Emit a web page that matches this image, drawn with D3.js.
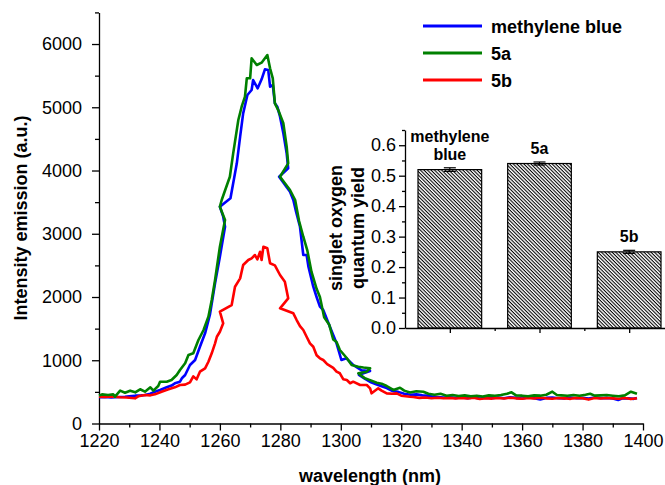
<!DOCTYPE html>
<html>
<head>
<meta charset="utf-8">
<script src="https://cdn.jsdelivr.net/npm/d3@7"></script>
<style>
  body { margin: 0; background: #fff; }
  svg { display: block; }
</style>
</head>
<body>
<script>
// Emission spectra, [wavelength (nm), intensity (a.u.)]
const methyleneBlue = [
  [1220,414],[1222,420],[1224,410],[1225.3,416],[1227,420],[1228.6,424],[1230,430],[1232,440],
  [1234,445],[1235.2,451],[1237,470],[1238.5,503],[1240.2,530],[1242.4,572],[1244,600],[1245.1,635],
  [1246.8,661],[1247.5,720],[1248.5,767],[1250.1,925],[1251.8,1004],[1253.4,1214],[1255.1,1426],
  [1256.7,1720],[1258.4,2216],[1260,2637],[1261.7,3111],[1261.1,3270],[1260,3428],[1263.5,3560],
  [1264.4,3800],[1265.6,4114],[1266.7,4535],[1267.7,4904],[1269.1,5194],[1270.5,5273],[1271,5431],
  [1272.5,5300],[1273.8,5442],[1274.9,5600],[1276,5589],[1276.6,5325],[1277.5,5352],[1278.2,5062],
  [1279,5009],[1279.9,4851],[1281,4588],[1282.1,4272],[1282.6,4035],[1279.6,3902],[1283.2,3665],
  [1284.3,3534],[1285.2,3350],[1286.5,3111],[1287.6,2664],[1288.7,2664],[1289.3,2479],[1290.9,2163],
  [1292,2000],[1293.1,1847],[1294.2,1794],[1296.4,1530],[1298.6,1268],[1300.2,1004],[1301.9,1031],
  [1304.1,925],[1306.9,840],[1309.7,830],[1306,770],[1308.2,700],[1310,650],[1311.9,615],[1313.5,590],
  [1315.2,560],[1317,515],[1319,500],[1321,470],[1323,455],[1325,460],[1327,445],[1329,440],
  [1330,430],[1332,420],[1334,410],[1336,415],[1338,405],[1340,410],[1342,400],[1344,412],[1346,395],
  [1348,408],[1350,400],[1352,410],[1354,398],[1356,415],[1358,405],[1360,395],[1362,410],[1364,400],
  [1366,380],[1368,405],[1370,410],[1372,400],[1374,395],[1376,410],[1378,400],[1380,405],[1382,395],
  [1384,410],[1386,400],[1388,405],[1390,395],[1391.8,372],[1393,395],[1395,400],[1397,390],[1398,405]
];

const compound5a = [
  [1220,440],[1221,461],[1223,451],[1224.7,461],[1225.3,424],[1227,519],[1228.6,487],[1230.3,519],
  [1232,493],[1233.6,541],[1235.2,503],[1237,572],[1238,519],[1239.6,593],[1240.2,661],[1242.4,661],
  [1244,688],[1245.7,767],[1246.8,846],[1248.5,952],[1249.6,1083],[1251.2,1110],[1252.9,1320],
  [1254.6,1478],[1256.2,1689],[1257.3,1953],[1258.4,2269],[1260,2796],[1261.7,3217],[1260,3428],
  [1260.6,3534],[1263.3,3902],[1264.4,4272],[1266.1,4798],[1267.2,5009],[1268.3,5167],[1268.9,5458],
  [1270,5458],[1270.5,5774],[1272.2,5668],[1273.8,5705],[1275.7,5826],[1276.6,5616],[1277.5,5458],
  [1278.2,5062],[1279.3,4956],[1281,4746],[1282.1,4376],[1282.6,4114],[1279.9,3902],[1283.2,3692],
  [1284.9,3534],[1286.2,3200],[1287.6,2953],[1288.9,2743],[1290.3,2400],[1292,2130],[1293.1,2000],
  [1294.5,1680],[1296.2,1560],[1297.5,1330],[1298.6,1290],[1299.7,1162],[1301.9,1040],[1303.6,925],
  [1305.8,898],[1307.5,885],[1309.7,873],[1308.6,819],[1305.8,794],[1308,714],[1309.5,690],
  [1311.9,645],[1313.5,630],[1315.2,593],[1317.4,530],[1319.6,566],[1321,520],[1322.9,490],
  [1325,510],[1327.3,503],[1329,470],[1331,455],[1333,470],[1335,440],[1337,450],[1339,435],
  [1341,445],[1343,430],[1345,440],[1347,428],[1349,445],[1351,438],[1353,450],[1355,470],
  [1356.5,493],[1358,445],[1360,440],[1362,430],[1364,445],[1366,440],[1368,455],[1370,503],
  [1371.5,450],[1373,445],[1375,438],[1377,450],[1379,440],[1381,455],[1382.5,471],[1384,440],
  [1386,445],[1388,450],[1390,440],[1392,430],[1394,445],[1396,503],[1398,471]
];

const compound5b = [
  [1220,424],[1222,420],[1224,428],[1225.3,424],[1227,415],[1229,410],[1231.9,398],[1233,430],
  [1235.2,451],[1237,445],[1238.5,461],[1240.7,503],[1243,540],[1245.1,572],[1246.8,609],[1248.5,615],
  [1250.1,650],[1251.2,745],[1252.3,698],[1253.4,819],[1255.1,872],[1256.2,977],[1257.3,1110],
  [1258.4,1268],[1259,1372],[1260,1451],[1261.1,1584],[1260,1768],[1263.9,1873],[1265,2163],
  [1266.7,2295],[1267.7,2506],[1269.4,2585],[1270.5,2612],[1271.6,2664],[1272.4,2596],[1273.3,2716],
  [1273.8,2585],[1274.4,2795],[1275.7,2770],[1276.6,2533],[1278.2,2500],[1279.9,2348],[1281.5,2242],
  [1282.6,1979],[1279.9,1821],[1284.3,1742],[1285.4,1636],[1286.5,1540],[1287.6,1478],[1288.7,1372],
  [1289.8,1268],[1290.9,1214],[1292,1080],[1293.1,1031],[1294.2,1004],[1295.5,940],[1297.5,880],
  [1298.6,819],[1299.7,794],[1300.8,700],[1302,688],[1303.1,636],[1304.1,661],[1306.4,609],
  [1308.6,609],[1309.7,556],[1310.2,477],[1312.4,556],[1313.5,520],[1315.2,477],[1317,470],
  [1318.5,477],[1320,440],[1322.9,424],[1324,420],[1326,405],[1328,410],[1330,400],[1332,408],
  [1334,398],[1336,405],[1338,395],[1340,402],[1342,396],[1344,408],[1346,388],[1348,400],
  [1350,394],[1352,404],[1354,396],[1356,408],[1358,398],[1360,392],[1362,404],[1364,396],
  [1366,408],[1368,398],[1370,392],[1372,402],[1374,398],[1376,390],[1378,405],[1380,398],
  [1382,378],[1384,402],[1386,395],[1388,402],[1390,398],[1392,392],[1394,402],[1396,386],[1398,400]
];

const seriesNames = ["methylene blue", "5a", "5b"];
const seriesColors = ["#0000ff", "#008000", "#ff0000"];

// Inset: singlet oxygen quantum yield
const yieldLabels = [["methylene", "blue"], ["5a"], ["5b"]];
const yieldValues = [0.52, 0.54, 0.25];
const yieldErrors = [0.006, 0.005, 0.005];

const xTicks = [1220, 1240, 1260, 1280, 1300, 1320, 1340, 1360, 1380, 1400];
const yTicks = [0, 1000, 2000, 3000, 4000, 5000, 6000];
const insetTicks = [0, 0.1, 0.2, 0.3, 0.4, 0.5, 0.6];

const width = 665;
const height = 485;
const font = "'Liberation Sans', Arial, Helvetica, sans-serif";

const svg = d3
  .select("body")
  .append("svg")
  .attr("width", width)
  .attr("height", height)
  .style("font-family", font);

// Main spectrum chart

const xScale = d3.scaleLinear().domain([1220, 1400]).range([99, 643]);
const yScale = d3.scaleLinear().domain([0, 6500]).range([423.5, 12.4]);

function styleAxis(g, size) {
  g.attr("font-family", font).attr("font-size", size);
  g.selectAll("path, line").attr("stroke", "#000").attr("stroke-width", 1.3);
  g.selectAll("text").attr("fill", "#000");
}

// minor ticks
svg
  .append("g")
  .attr("transform", `translate(0, ${yScale(0)})`)
  .call(d3.axisBottom(xScale).tickValues(d3.range(1230, 1400, 20)).tickSize(4).tickFormat(""))
  .call((g) => g.select(".domain").remove())
  .call((g) => styleAxis(g, 18));

svg
  .append("g")
  .attr("transform", `translate(${xScale(1220)}, 0)`)
  .call(d3.axisLeft(yScale).tickValues(d3.range(500, 6501, 1000)).tickSize(4).tickFormat(""))
  .call((g) => g.select(".domain").remove())
  .call((g) => styleAxis(g, 18));

svg
  .append("g")
  .attr("transform", `translate(0, ${yScale(0)})`)
  .call(d3.axisBottom(xScale).tickValues(xTicks).tickFormat(d3.format("d")).tickSize(7).tickSizeOuter(0).tickPadding(4))
  .call((g) => styleAxis(g, 18));

svg
  .append("g")
  .attr("transform", `translate(${xScale(1220)}, 0)`)
  .call(d3.axisLeft(yScale).tickValues(yTicks).tickSize(7).tickSizeOuter(0).tickPadding(10).tickFormat(d3.format("d")))
  .call((g) => styleAxis(g, 18));

const line = d3
  .line()
  .x((d) => xScale(d[0]))
  .y((d) => yScale(d[1]));

[methyleneBlue, compound5b, compound5a].forEach((series) => {
  const i = [methyleneBlue, compound5a, compound5b].indexOf(series);
  svg
    .append("path")
    .datum(series)
    .attr("fill", "none")
    .attr("stroke", seriesColors[i])
    .attr("stroke-width", 2.6)
    .attr("stroke-linejoin", "round")
    .attr("d", line);
});

svg
  .append("text")
  .attr("x", 370)
  .attr("y", 482)
  .attr("text-anchor", "middle")
  .attr("font-size", 18)
  .attr("font-weight", "bold")
  .text("wavelength (nm)");

svg
  .append("text")
  .attr("transform", "translate(27, 218) rotate(-90)")
  .attr("text-anchor", "middle")
  .attr("font-size", 18)
  .attr("font-weight", "bold")
  .text("Intensity emission (a.u.)");

// Legend

const legend = svg.append("g");
seriesNames.forEach((name, i) => {
  const ly = 26 + i * 27;
  legend
    .append("line")
    .attr("x1", 423)
    .attr("x2", 482)
    .attr("y1", ly)
    .attr("y2", ly)
    .attr("stroke", seriesColors[i])
    .attr("stroke-width", 3);
  legend
    .append("text")
    .attr("x", 491)
    .attr("y", ly + 6.5)
    .attr("font-size", 18)
    .attr("font-weight", "bold")
    .text(name);
});

// Inset bar chart

const defs = svg.append("defs");
const hatch = defs
  .append("pattern")
  .attr("id", "hatch")
  .attr("patternUnits", "userSpaceOnUse")
  .attr("width", 2.5)
  .attr("height", 2.5)
  .attr("patternTransform", "rotate(45)");
hatch.append("rect").attr("width", 2.5).attr("height", 2.5).attr("fill", "#fff");
hatch.append("rect").attr("width", 2.5).attr("height", 1.05).attr("fill", "#000");

const bx = d3.scaleLinear().domain([0.5, 3.5]).range([405, 674]);
const by = d3.scaleLinear().domain([0, 0.65]).range([328, 130]);
const barWidth = 0.71;

svg
  .append("g")
  .selectAll("rect")
  .data(yieldValues)
  .enter()
  .append("rect")
  .attr("x", (d, i) => bx(i + 1 - barWidth / 2))
  .attr("y", (d) => by(d))
  .attr("width", bx(barWidth) - bx(0))
  .attr("height", (d) => by(0) - by(d))
  .attr("fill", "url(#hatch)")
  .attr("stroke", "#000")
  .attr("stroke-width", 1.2);

// error bars
const errors = svg.append("g").attr("stroke", "#000").attr("stroke-width", 1.2);
yieldValues.forEach((v, i) => {
  const cx = bx(i + 1);
  errors.append("line").attr("x1", cx).attr("x2", cx).attr("y1", by(v - yieldErrors[i])).attr("y2", by(v + yieldErrors[i]));
  [v - yieldErrors[i], v + yieldErrors[i]].forEach((e) => {
    errors.append("line").attr("x1", cx - 6).attr("x2", cx + 6).attr("y1", by(e)).attr("y2", by(e));
  });
});

// bar labels
yieldLabels.forEach((lines, i) => {
  const t = svg
    .append("text")
    .attr("text-anchor", "middle")
    .attr("font-size", 16)
    .attr("font-weight", "bold");
  const top = by(yieldValues[i]) - 10 - (lines.length - 1) * 18;
  lines.forEach((s, k) => {
    t.append("tspan").attr("x", bx(i + 1)).attr("y", top + k * 18).text(s);
  });
});

svg
  .append("g")
  .attr("transform", `translate(0, ${by(0)})`)
  .call(d3.axisBottom(bx).tickValues([1.5, 2.5]).tickSize(3).tickFormat(""))
  .call((g) => g.select(".domain").remove())
  .call((g) => styleAxis(g, 18));

svg
  .append("g")
  .attr("transform", `translate(0, ${by(0)})`)
  .call(d3.axisBottom(bx).tickValues([1, 2, 3]).tickSize(5).tickSizeOuter(0).tickFormat(""))
  .call((g) => styleAxis(g, 18));

svg
  .append("g")
  .attr("transform", `translate(${bx(0.5)}, 0)`)
  .call(d3.axisLeft(by).tickValues(d3.range(0.05, 0.66, 0.1)).tickSize(3).tickFormat(""))
  .call((g) => g.select(".domain").remove())
  .call((g) => styleAxis(g, 18));

svg
  .append("g")
  .attr("transform", `translate(${bx(0.5)}, 0)`)
  .call(d3.axisLeft(by).tickValues(insetTicks).tickSize(6).tickSizeOuter(0).tickPadding(3).tickFormat(d3.format(".1f")))
  .call((g) => styleAxis(g, 18));

const insetLabel = svg
  .append("text")
  .attr("transform", "translate(0, 228) rotate(-90)")
  .attr("text-anchor", "middle")
  .attr("font-size", 18)
  .attr("font-weight", "bold");
insetLabel.append("tspan").attr("x", 0).attr("y", 342).text("singlet oxygen");
insetLabel.append("tspan").attr("x", 0).attr("y", 364).text("quantum yield");
</script>
</body>
</html>
